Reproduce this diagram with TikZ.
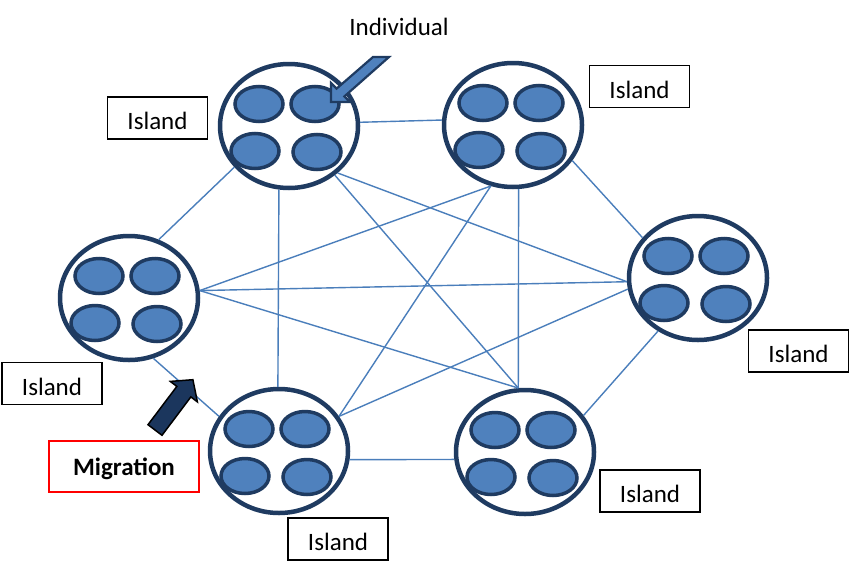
\documentclass[tikz,border=0pt]{standalone}
\usepackage{fontspec}
\setmainfont{Carlito}
\usetikzlibrary{shapes.geometric}
\definecolor{navy}{HTML}{1F3B61}
\definecolor{indfill}{HTML}{4F81BD}
\definecolor{linkc}{HTML}{4A7EBB}
\definecolor{migfill}{HTML}{1B365D}
\newcommand\mkisland[3]{%
  \node[island] (#1) at (#2,#3) {};
  \node[indiv] (#1-1) at (#2-30,#3-22) {};
  \node[indiv] (#1-2) at (#2+26,#3-22) {};
  \node[indiv] (#1-3) at (#2-34,#3+25) {};
  \node[indiv] (#1-4) at (#2+28,#3+26) {};
}
\begin{document}
\begin{tikzpicture}[x=1pt,y=-1pt,
  island/.style={ellipse, draw=navy, line width=4.5pt, fill=white,
    minimum width=138pt, minimum height=124pt, inner sep=0pt},
  indiv/.style={ellipse, draw=navy, line width=3.5pt, fill=indfill,
    minimum width=48pt, minimum height=35pt, inner sep=0pt},
  link/.style={draw=linkc, line width=1.4pt},
  labelbox/.style={draw=black, line width=1.8pt, fill=white, inner sep=0pt,
    minimum width=100pt, minimum height=42pt, text height=23pt, text depth=0pt,
    font=\fontsize{25}{30}\selectfont},
]
\useasboundingbox (0,0) rectangle (850,562);
\fill[white] (0,0) rectangle (850,562);

\mkisland{A}{289}{126}
\mkisland{B}{513}{125}
\mkisland{C}{129}{298}
\mkisland{D}{698}{278}
\mkisland{E}{279}{451}
\mkisland{F}{525}{452}

\draw[link] (A.3) -- (B.176);
\draw[link] (A.217) -- (C.63);
\draw[link] (A.261) -- (E.91);
\draw[link] (A.313) -- (F.96);
\draw[link] (A.316) -- (D.183);
\draw[link] (B.250) -- (C.6);
\draw[link] (B.250) -- (E.30);
\draw[link] (B.275) -- (F.96);
\draw[link] (B.329) -- (D.144);
\draw[link] (C.6) -- (D.183);
\draw[link] (C.6) -- (F.96);
\draw[link] (C.292) -- (E.150);
\draw[link] (D.189) -- (E.30);
\draw[link] (D.233) -- (F.32);
\draw[link] (E.353) -- (F.186);

\node[labelbox] (LA) at (157.5,118) {Island};
\node[labelbox] (LB) at (639.5,86.5) {Island};
\node[labelbox] (LC) at (52,383.5) {Island};
\node[labelbox] (LD) at (798.5,351) {Island};
\node[labelbox] (LE) at (338,539) {Island};
\node[labelbox] (LF) at (650,491) {Island};
\node[draw=red, line width=1.3pt, fill=white, inner sep=0pt,
  minimum width=150pt, minimum height=51pt, text height=22pt, text depth=5pt,
  font=\bfseries\fontsize{25}{30}\selectfont] (mig) at (124,466.5) {Migration};

\node[font=\fontsize{25}{30}\selectfont, anchor=base, inner sep=0pt] (indlabel) at (399,35) {Individual};

% individual pointer arrow
\filldraw[fill=indfill, draw=navy, line width=2.2pt, line join=miter]
  (373,57) -- (336.6,88.6) -- (331,83) -- (331,102) -- (350,102)
  -- (344.4,96.4) -- (389,57) -- cycle;

% migration arrow
\filldraw[fill=migfill, draw=black, line width=1.5pt, line join=miter]
  (148.0,424.7) -- (176.85,386.4) -- (170.3,381.4) -- (192.9,379.7)
  -- (197.4,401.9) -- (190.85,396.9) -- (162.0,435.3) -- cycle;
\end{tikzpicture}
\end{document}
